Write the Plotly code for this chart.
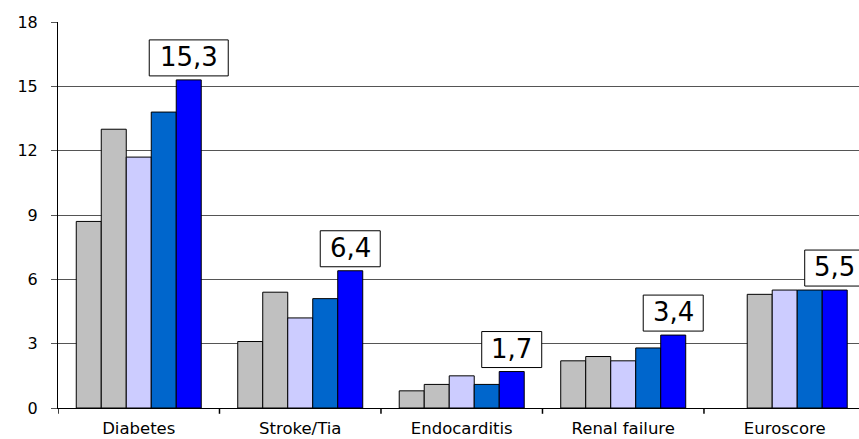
import plotly.graph_objects as go

categories = ["Diabetes", "Stroke/Tia", "Endocarditis", "Renal failure", "Euroscore"]

series_a = [8.7, 3.1, 0.8, 2.2, None]
series_b = [13.0, 5.4, 1.1, 2.4, 5.3]
series_c = [11.7, 4.2, 1.5, 2.2, 5.5]
series_d = [13.8, 5.1, 1.1, 2.8, 5.5]
series_e = [15.3, 6.4, 1.7, 3.4, 5.5]

y_ticks = [0, 3, 6, 9, 12, 15, 18]

series = [series_a, series_b, series_c, series_d, series_e]
colors = ["#C0C0C0", "#C0C0C0", "#CCCCFF", "#0066CC", "#0000FF"]

BARGAP = 0.226
FONT = "DejaVu Sans"

fig = go.Figure()
for vals, col in zip(series, colors):
    fig.add_trace(go.Bar(
        x=list(range(len(categories))),
        y=vals,
        marker=dict(color=col, line=dict(color="black", width=1)),
        showlegend=False,
    ))

# boxed value labels above the last series: box drawn as a clipped shape,
# the number as plain text on top of it
n = len(series)
bar_w = (1 - BARGAP) / n
offset = (n - 1) / 2 * bar_w
for i, v in enumerate(series_e):
    txt = f"{v:.1f}".replace(".", ",")
    half = (19 * len(txt) + 3) / 2
    fig.add_shape(
        type="rect", xref="x", yref="y",
        xsizemode="pixel", xanchor=i + offset, x0=-half, x1=half,
        ysizemode="pixel", yanchor=v, y0=4, y1=40,
        fillcolor="white", line=dict(color="black", width=1), layer="above",
    )
    fig.add_annotation(
        x=i + offset, y=v, xref="x", yref="y",
        text=txt, showarrow=False,
        yanchor="bottom", yshift=6,
        font=dict(family=FONT, size=26, color="black"),
    )

fig.update_layout(
    width=859, height=439,
    margin=dict(l=58, r=0, t=22, b=31),
    plot_bgcolor="white", paper_bgcolor="white",
    barmode="group", bargap=BARGAP, bargroupgap=0,
    font=dict(family=FONT, color="black"),
)
fig.update_xaxes(
    range=[-0.5, 4.46],
    tickmode="array",
    tickvals=list(range(len(categories))),
    ticktext=categories,
    showgrid=False,
    showline=True, linecolor="black", linewidth=1,
    ticks="", tickfont=dict(size=16.5), ticklabelstandoff=5,
    zeroline=False, automargin=False,
)
# boundary tick marks below the axis line
for k in range(len(categories) + 1):
    fig.add_shape(type="line", xref="x", yref="paper",
                  x0=k - 0.5, x1=k - 0.5, y0=0, y1=-0.015,
                  line=dict(color="black", width=1.5))
fig.update_yaxes(
    range=[0, 18],
    tickvals=y_ticks,
    showgrid=True, gridcolor="#555555", gridwidth=1,
    showline=True, linecolor="black", linewidth=1,
    ticks="outside", ticklen=6, tickcolor="#555555",
    tickfont=dict(size=16), ticklabelstandoff=10,
    zeroline=False, automargin=False,
)

fig.write_html("out.html")
